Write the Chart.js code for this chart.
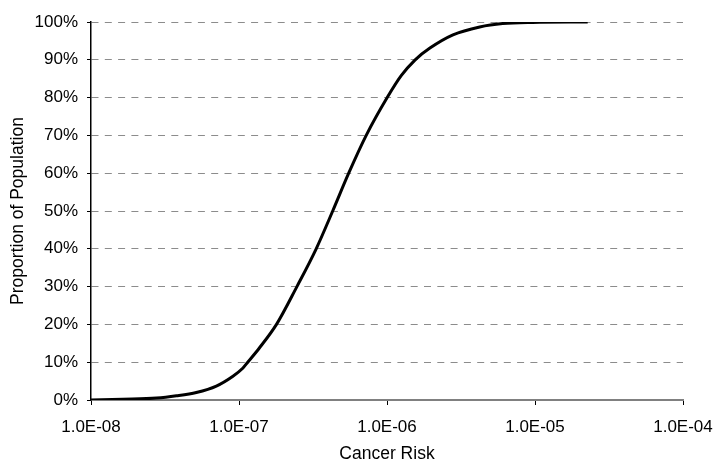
<!DOCTYPE html>
<html>
<head>
<meta charset="utf-8">
<script src="https://cdn.jsdelivr.net/npm/chart.js@4/dist/chart.umd.min.js"></script>
<style>
  html, body { margin: 0; padding: 0; background: #fff; }
  #wrap { width: 715px; height: 465px; }
</style>
</head>
<body>
<div id="wrap"><canvas id="c"></canvas></div>
<script>
// Cancer risk (x) and cumulative proportion of population in % (y)
const riskValues = [1.0e-8, 1.64e-8, 2.77e-8, 3.78e-8, 5.15e-8, 7.03e-8, 9.1e-8, 1.06e-7, 1.146e-7, 1.369e-7,
                    1.792e-7, 2.462e-7, 3.323e-7, 4.297e-7, 5.511e-7, 7.236e-7, 1.003e-6, 1.247e-6,
                    1.55e-6, 1.95e-6, 2.79e-6, 4.23e-6, 6.05e-6, 9.64e-6, 2.27e-5];
const proportionValues = [0, 0.2, 0.5, 1.1, 2.0, 3.7, 6.3, 8.4, 10, 13.7,
                          20, 30, 40, 50, 60, 70, 80, 85.8,
                          90, 93.1, 96.6, 98.7, 99.6, 99.9, 100];
const xTickValues = [1e-8, 1e-7, 1e-6, 1e-5, 1e-4];
const xTickLabels = ['1.0E-08', '1.0E-07', '1.0E-06', '1.0E-05', '1.0E-04'];
const yTickValues = [0, 10, 20, 30, 40, 50, 60, 70, 80, 90, 100];

const points = riskValues.map((x, i) => ({ x: x, y: proportionValues[i] }));
const FONT = 'Liberation Sans, Arial, sans-serif';

new Chart(document.getElementById('c'), {
  type: 'line',
  data: {
    datasets: [{
      data: points,
      borderColor: '#000',
      borderWidth: 3,
      pointRadius: 0,
      cubicInterpolationMode: 'monotone',
      fill: false
    }]
  },
  options: {
    responsive: true,
    maintainAspectRatio: false,
    animation: false,
    events: [],
    layout: { padding: { left: 0, right: 32, top: 22, bottom: 0 } },
    plugins: { legend: { display: false }, tooltip: { enabled: false } },
    scales: {
      x: {
        type: 'logarithmic',
        min: 1e-8,
        max: 1e-4,
        afterBuildTicks: (axis) => { axis.ticks = xTickValues.map(v => ({ value: v })); },
        afterFit: (scale) => { scale.height = 65; scale.paddingLeft = 0; scale.paddingRight = 0; },
        ticks: {
          autoSkip: false,
          maxRotation: 0,
          padding: 12,
          color: '#000',
          font: { family: FONT, size: 17 },
          callback: (v) => { const i = xTickValues.findIndex(t => Math.abs(t - v) / t < 1e-6); return i >= 0 ? xTickLabels[i] : ''; }
        },
        grid: {
          drawOnChartArea: false,
          drawTicks: true,
          tickLength: 5,
          tickColor: '#000',
          tickWidth: 1
        },
        border: { display: true, color: '#808080', width: 2 },
        title: {
          display: true,
          text: 'Cancer Risk',
          color: '#000',
          font: { family: FONT, size: 17.5 },
          padding: { top: 4, bottom: 0 }
        }
      },
      y: {
        min: 0,
        max: 100,
        afterBuildTicks: (axis) => { axis.ticks = yTickValues.map(v => ({ value: v })); },
        afterFit: (scale) => { scale.width = 91; },
        ticks: {
          padding: 9,
          color: '#000',
          font: { family: FONT, size: 17 },
          callback: (v) => v + '%'
        },
        grid: {
          color: '#8c8c8c',
          lineWidth: 1,
          drawTicks: true,
          tickLength: 4,
          tickColor: '#000',
          tickWidth: 1,
          tickBorderDash: []
        },
        border: { display: true, color: '#000', width: 1.5, dash: [7, 6.3] },
        title: {
          display: true,
          text: 'Proportion of Population',
          color: '#000',
          font: { family: FONT, size: 17.5 },
          padding: { top: 8, bottom: 0 }
        }
      }
    }
  }
});
</script>
</body>
</html>
